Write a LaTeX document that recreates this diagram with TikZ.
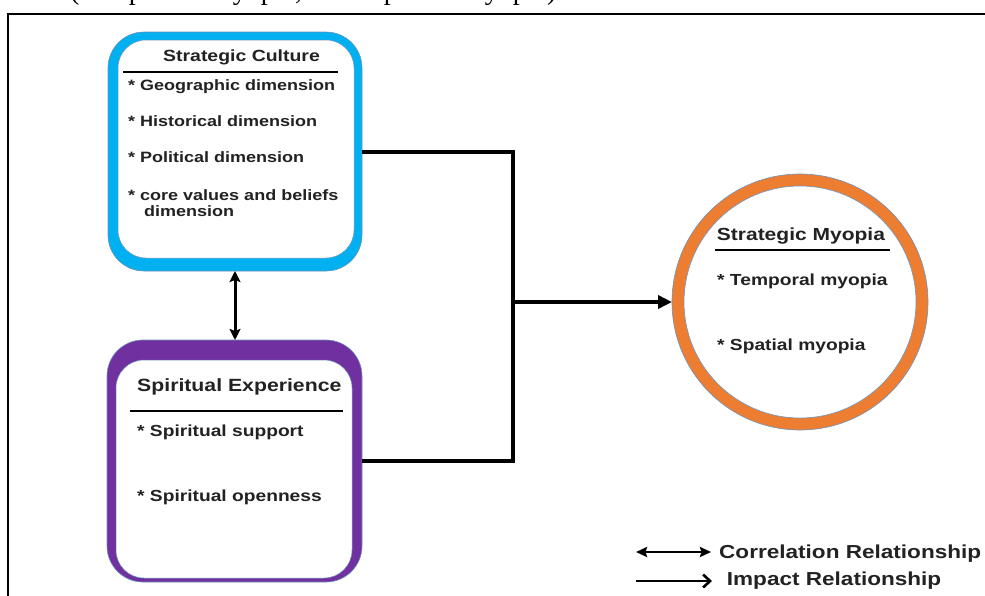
\documentclass[tikz,border=0pt]{standalone}
\usepackage{fontspec}
\newfontfamily\lab{Liberation Sans}[FakeStretch=1.2]
\newfontfamily\capfont{Liberation Serif}
\usetikzlibrary{arrows.meta,calc}
\definecolor{cblue}{HTML}{00B0F0}
\definecolor{cpurple}{HTML}{7030A0}
\definecolor{corange}{HTML}{ED7D31}
\definecolor{cedge}{HTML}{6E93BC}
\definecolor{ctext}{HTML}{222222}
\tikzset{
  outbox/.style={rectangle, rounded corners=36pt, draw=cedge, line width=0.6pt, inner sep=0pt, outer sep=0pt},
  inbox/.style={rectangle, rounded corners=28pt, fill=white, draw=cedge, line width=0.5pt, inner sep=0pt, outer sep=0pt},
  ring/.style={circle, draw=cedge, line width=0.6pt, inner sep=0pt, outer sep=0pt},
  txt/.style={anchor=base west, inner sep=0pt, text=ctext, font=\lab\bfseries\fontsize{#1}{#1}\selectfont},
  uline/.style={line width=2.2pt, black},
  conn/.style={line width=4pt, black},
  dblarr/.style={line width=3pt, black, {Stealth[length=11pt,width=11pt,inset=2pt]}-{Stealth[length=11pt,width=11pt,inset=2pt]}},
  legdbl/.style={line width=2.6pt, black, {Stealth[length=11pt,width=10pt,inset=1.5pt]}-{Stealth[length=11pt,width=10pt,inset=1.5pt]}},
  legimp/.style={line width=2.6pt, black, -{Straight Barb[length=7pt,width=13pt]}},
  captxt/.style={anchor=base west, inner sep=0pt, font=\capfont\fontsize{28}{32}\selectfont}
}
\begin{document}
\begin{tikzpicture}[x=1pt,y=-1pt]
\useasboundingbox (0,0) rectangle (985,595);
\fill[white] (0,0) rectangle (985,595);

% clipped frame and caption remnants (only their lowest parts show)
\begin{scope}
\clip (0,0) rectangle (985,595);
\draw[line width=2pt, black] (8,600) -- (8,14) -- (990,14);
\node[captxt] (cap1) at (70,-0.5) {(Temporal};
\node[captxt] (cap2) at (211,-0.5) {myopia,};
\node[captxt] (cap3) at (368,-0.5) {Spatial};
\node[captxt] (cap4) at (463,-0.5) {myopia)};
\end{scope}

% Strategic Culture box
\node[outbox, fill=cblue, minimum width=254pt, minimum height=239pt] (sc) at (235,151.5) {};
\node[inbox, minimum width=236pt, minimum height=218pt] (scin) at (236,149) {};
\node[txt=16.2] (sct) at (163,61.7) {Strategic Culture};
\draw[uline] (123,71.7) -- (338,71.7);
\node[txt=15] (sc1) at (128,90) {* Geographic dimension};
\node[txt=15] (sc2) at (128,126) {* Historical dimension};
\node[txt=15] (sc3) at (128,162.7) {* Political dimension};
\node[txt=15] (sc4) at (128,200) {* core values and beliefs};
\node[txt=15] (sc5) at (144,216.7) {dimension};

% Spiritual Experience box
\node[outbox, fill=cpurple, minimum width=255pt, minimum height=242pt] (se) at (234.5,461) {};
\node[inbox, minimum width=236pt, minimum height=218pt] (sein) at (234,469) {};
\node[txt=17.7] (set) at (137,391.7) {Spiritual Experience};
\draw[uline] (130,411) -- (343,411);
\node[txt=16] (se1) at (137,436) {* Spiritual support};
\node[txt=16] (se2) at (137,501.7) {* Spiritual openness};

% Strategic Myopia circle
\node[ring, fill=corange, minimum size=256pt] (sm) at (800,302) {};
\node[ring, fill=white, minimum size=232pt] (smin) at (800,302) {};
\node[txt=17.5] (smt) at (716.7,240) {Strategic Myopia};
\draw[uline] (715,250) -- (890,250);
\node[txt=16] (sm1) at (717,285) {* Temporal myopia};
\node[txt=16] (sm2) at (717,350.7) {* Spatial myopia};

% connectors
\coordinate (jx) at (513,0);
\draw[conn] (sc.east) -- (sc.east -| jx) -- (se.east -| jx) -- (se.east);
\draw[conn, -{Triangle[length=14pt,width=13pt]}] (sm.west -| jx) -- (sm.west);
\draw[dblarr] (sc.south) -- (sc.south |- se.north);

% legend
\coordinate (la1) at (636,552);
\coordinate (la2) at (711,552);
\coordinate (lb1) at (636,581);
\coordinate (lb2) at (712,581);
\draw[legdbl] (la1) -- (la2);
\draw[legimp] (lb1) -- (lb2);
\node[txt=18.8] (lg1) at (719,558.3) {Correlation Relationship};
\node[txt=18.8] (lg2) at (726.7,585) {Impact Relationship};
\end{tikzpicture}
\end{document}
